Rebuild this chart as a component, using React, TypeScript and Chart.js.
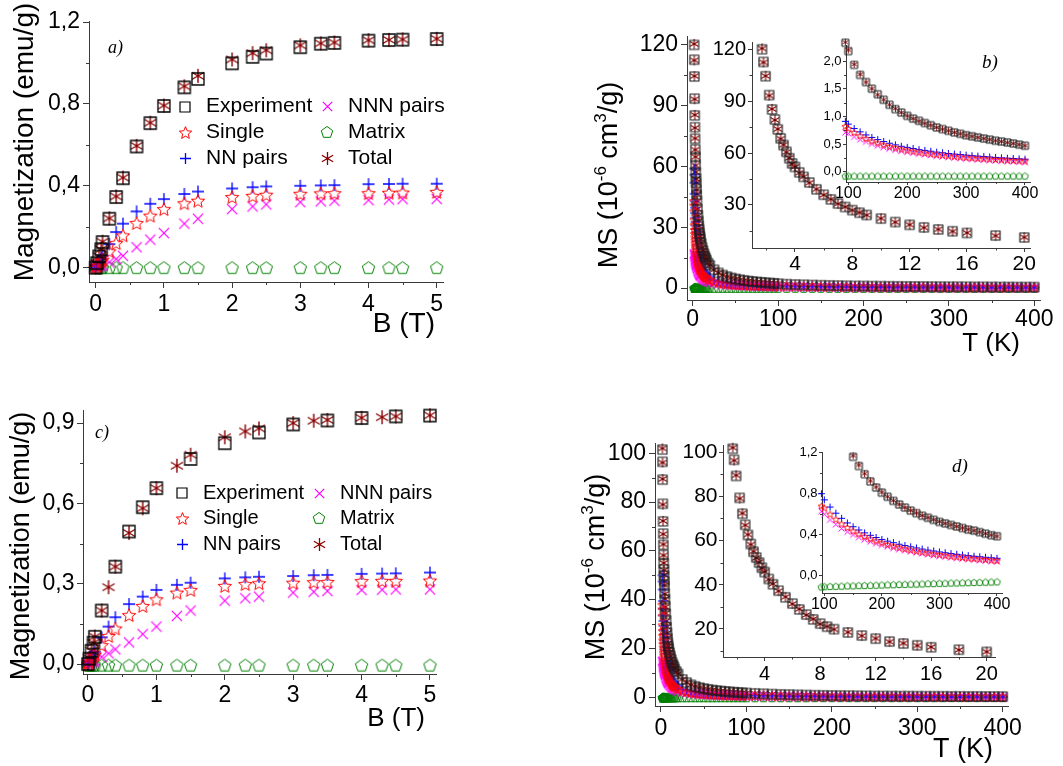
import React, { useEffect, useRef } from "react";
import { Chart, registerables } from "chart.js";

Chart.register(...registerables);

const W = 1063;
const H = 766;
const AXIS = "#3a3a3a";
const SANS = "'Liberation Sans', Arial, sans-serif";
const SERIF = "'Liberation Serif', 'Times New Roman', serif";

// ---------------- data: panels a) and c) (magnetization vs field) ----------------
const B_FIELD = [0, 0.02, 0.05, 0.08, 0.1, 0.2, 0.3, 0.4, 0.6, 0.8, 1.0, 1.3, 1.5, 2.0, 2.3, 2.5, 3.0, 3.3, 3.5, 4.0, 4.3, 4.5, 5.0];

const A_EXPERIMENT = [0, 0.022, 0.055, 0.09, 0.125, 0.239, 0.345, 0.437, 0.592, 0.706, 0.79, 0.881, 0.922, 0.998, 1.03, 1.046, 1.077, 1.094, 1.098, 1.109, 1.112, 1.114, 1.117];
const A_SINGLE = [0, 0.008, 0.02, 0.032, 0.039, 0.08, 0.12, 0.158, 0.218, 0.254, 0.286, 0.315, 0.327, 0.345, 0.351, 0.356, 0.361, 0.363, 0.364, 0.364, 0.366, 0.367, 0.37];
const A_NN = [0, 0.012, 0.03, 0.045, 0.058, 0.115, 0.174, 0.215, 0.275, 0.312, 0.335, 0.36, 0.372, 0.387, 0.393, 0.397, 0.4, 0.402, 0.403, 0.408, 0.409, 0.41, 0.41];
const A_NNN = [0, 0.002, 0.005, 0.008, 0.011, 0.026, 0.042, 0.058, 0.1, 0.137, 0.169, 0.215, 0.239, 0.286, 0.299, 0.309, 0.32, 0.324, 0.327, 0.33, 0.333, 0.335, 0.336];
const A_MATRIX = [0, 0, 0, 0, 0, 0, 0, 0, 0, 0, 0, 0, 0, 0, 0, 0, 0, 0, 0, 0, 0, 0, 0];
const A_TOTAL = [0, 0.022, 0.056, 0.09, 0.127, 0.241, 0.348, 0.44, 0.595, 0.708, 0.792, 0.886, 0.937, 1.017, 1.048, 1.062, 1.086, 1.096, 1.1, 1.111, 1.113, 1.115, 1.118];

const C_EXPERIMENT = [0, 0.02, 0.05, 0.08, 0.102, 0.2, null, 0.364, 0.495, 0.586, 0.657, null, 0.766, 0.825, null, 0.865, 0.895, null, 0.91, 0.919, null, 0.925, 0.928];
const C_SINGLE = [0, 0.007, 0.018, 0.029, 0.036, 0.071, 0.105, 0.133, 0.183, 0.217, 0.242, 0.267, 0.277, 0.292, 0.299, 0.302, 0.304, 0.306, 0.307, 0.31, 0.311, 0.311, 0.312];
const C_NN = [0, 0.01, 0.025, 0.037, 0.046, 0.1, 0.14, 0.175, 0.224, 0.252, 0.277, 0.296, 0.304, 0.32, 0.324, 0.326, 0.329, 0.332, 0.333, 0.337, 0.338, 0.339, 0.342];
const C_NNN = [0, 0.002, 0.005, 0.008, 0.012, 0.027, 0.04, 0.055, 0.081, 0.112, 0.14, 0.18, 0.2, 0.237, 0.246, 0.252, 0.267, 0.27, 0.273, 0.277, 0.278, 0.279, 0.279];
const C_MATRIX = [-0.004, -0.004, -0.004, -0.004, -0.004, -0.004, -0.004, -0.004, -0.004, -0.004, -0.004, -0.004, -0.004, -0.004, -0.004, -0.004, -0.004, -0.004, -0.004, -0.004, -0.004, -0.004, -0.004];
const C_TOTAL = [0, 0.021, 0.05, 0.08, 0.103, 0.2, 0.287, 0.364, 0.49, 0.582, 0.657, 0.741, 0.782, 0.847, 0.869, 0.88, 0.9, 0.909, 0.912, 0.92, 0.922, 0.925, 0.929];

// ---------------- data: panels b) and d) (susceptibility vs temperature) ----------------
const T_LOW = [1.7, 1.8, 1.95, 2.2, 2.4, 2.6, 2.8, 3.0, 3.2, 3.4, 3.6, 3.8, 4.0, 4.3, 4.6, 5.0, 5.5, 6.0, 6.5, 7.0, 7.5, 8.0, 8.5, 9.0, 10, 11, 12, 13, 14, 15, 16, 18, 20];
const T_MID = [25, 30, 35, 40, 45, 50, 55, 60, 65, 70, 75, 80, 85, 90, 95];
const T_HIGH = [100, 110, 120, 130, 140, 150, 160, 170, 180, 190, 200, 210, 220, 230, 240, 250, 260, 270, 280, 290, 300, 310, 320, 330, 340, 350, 360, 370, 380, 390, 400];
const TEMPS = [...T_LOW, ...T_MID, ...T_HIGH];

const B_EXPERIMENT = [
  120, 112.7, 104.4, 93.5, 85.2, 79.4, 73.7, 68.5, 64.6, 60.7, 57.0, 54.0, 52.0, 48.8, 46.2, 43.0, 39.0, 35.9, 33.2, 30.8, 28.8, 27.0, 25.5, 24.2, 22.1, 20.1, 18.5, 17.0, 15.8, 14.8, 13.8, 12.3, 11.2,
  9.0, 7.5, 6.45, 5.65, 5.02, 4.52, 4.1, 3.76, 3.47, 3.22, 3.0, 2.81, 2.64, 2.49, 2.33,
  2.18, 1.93, 1.75, 1.62, 1.5, 1.4, 1.3, 1.21, 1.13, 1.07, 1.01, 0.96, 0.92, 0.88, 0.84, 0.8, 0.77, 0.74, 0.71, 0.685, 0.66, 0.64, 0.62, 0.6, 0.58, 0.56, 0.545, 0.53, 0.51, 0.49, 0.47,
];
const B_SINGLE = [
  43, 40.8, 37.8, 33.7, 31, 28.7, 26.7, 25, 23.5, 22.1, 20.9, 19.9, 18.9, 17.6, 16.5, 15.2, 13.9, 12.7, 11.8, 10.9, 10.2, 9.6, 9.0, 8.5, 7.7, 7.0, 6.4, 5.9, 5.5, 5.1, 4.8, 4.3, 3.85,
  3.1, 2.58, 2.2, 1.93, 1.72, 1.55, 1.41, 1.29, 1.19, 1.1, 1.03, 0.97, 0.91, 0.86, 0.82,
  0.78, 0.71, 0.65, 0.6, 0.555, 0.52, 0.487, 0.458, 0.433, 0.41, 0.39, 0.371, 0.354, 0.339, 0.325, 0.312, 0.3, 0.289, 0.279, 0.269, 0.26, 0.252, 0.244, 0.236, 0.229, 0.223, 0.217, 0.211, 0.205, 0.2, 0.195,
];
const B_NN = [
  59, 56, 52, 46.5, 42.8, 39.7, 37, 34.7, 32.6, 30.8, 29.2, 27.7, 26.4, 24.6, 23.1, 21.3, 19.4, 17.8, 16.5, 15.3, 14.3, 13.4, 12.6, 11.9, 10.7, 9.7, 8.9, 8.2, 7.6, 7.1, 6.6, 5.9, 5.2,
  4.1, 3.35, 2.83, 2.43, 2.13, 1.9, 1.71, 1.55, 1.42, 1.3, 1.2, 1.11, 1.04, 0.97, 0.91,
  0.86, 0.78, 0.72, 0.665, 0.62, 0.58, 0.545, 0.515, 0.485, 0.46, 0.44, 0.42, 0.4, 0.385, 0.37, 0.355, 0.343, 0.33, 0.32, 0.31, 0.3, 0.29, 0.282, 0.274, 0.266, 0.259, 0.252, 0.245, 0.239, 0.233, 0.227,
];
const B_NNN = [
  17, 16.6, 16.1, 15.3, 14.7, 14.1, 13.6, 13.1, 12.6, 12.2, 11.8, 11.4, 11.0, 10.5, 10.0, 9.4, 8.7, 8.1, 7.6, 7.1, 6.7, 6.3, 6.0, 5.7, 5.2, 4.8, 4.4, 4.1, 3.85, 3.6, 3.4, 3.05, 2.8,
  2.3, 1.97, 1.72, 1.53, 1.38, 1.26, 1.16, 1.07, 1.0, 0.93, 0.88, 0.83, 0.78, 0.74, 0.71,
  0.69, 0.63, 0.58, 0.54, 0.5, 0.47, 0.44, 0.416, 0.394, 0.374, 0.356, 0.339, 0.324, 0.31, 0.297, 0.285, 0.274, 0.264, 0.254, 0.245, 0.237, 0.229, 0.222, 0.215, 0.209, 0.203, 0.197, 0.19, 0.184, 0.178, 0.172,
];
const B_MATRIX = [
  -0.08, -0.08, -0.08, -0.08, -0.08, -0.08, -0.08, -0.08, -0.08, -0.08, -0.08, -0.08, -0.08, -0.08, -0.08, -0.08, -0.08, -0.08, -0.08, -0.08, -0.08, -0.08, -0.08, -0.08, -0.08, -0.08, -0.08, -0.08, -0.08, -0.08, -0.08, -0.08, -0.08,
  -0.08, -0.08, -0.08, -0.08, -0.08, -0.08, -0.08, -0.08, -0.08, -0.08, -0.08, -0.08, -0.08, -0.08, -0.08,
  -0.078, -0.078, -0.078, -0.078, -0.078, -0.078, -0.078, -0.078, -0.078, -0.078, -0.078, -0.078, -0.078, -0.078, -0.078, -0.078, -0.078, -0.078, -0.078, -0.078, -0.078, -0.078, -0.078, -0.078, -0.078, -0.078, -0.078, -0.078, -0.078, -0.078, -0.078,
];
const B_TOTAL = [
  120.5, 112.4, 104.6, 93.2, 85.5, 79.1, 73.9, 68.3, 64.8, 60.5, 57.2, 53.8, 52.1, 48.6, 46.3, 42.8, 39.1, 35.8, 33.3, 30.7, 28.9, 26.9, 25.6, 24.1, 22.2, 20.0, 18.6, 16.9, 15.9, 14.7, 13.9, 12.2, 11.3,
  9.05, 7.48, 6.47, 5.63, 5.03, 4.5, 4.11, 3.75, 3.48, 3.21, 3.01, 2.8, 2.65, 2.48, 2.34,
  2.2, 1.94, 1.76, 1.62, 1.5, 1.39, 1.3, 1.21, 1.14, 1.07, 1.01, 0.96, 0.915, 0.875, 0.84, 0.8, 0.77, 0.74, 0.71, 0.685, 0.66, 0.64, 0.62, 0.6, 0.58, 0.56, 0.545, 0.525, 0.51, 0.49, 0.47,
];

const D_EXPERIMENT = [
  101.5, 96.5, 89.2, 79.3, 72.1, 67.1, 62.5, 58.4, 54.9, 52.3, 50.0, 47.7, 45.7, 42.6, 40.2, 37.3, 34.3, 31.5, 28.8, 26.5, 24.3, 22.4, 21.0, 19.9, 18.4, 17.0, 15.6, 14.3, 13.4, 12.6, 11.7, 10.6, 9.6,
  7.4, 6.1, 5.2, 4.55, 4.05, 3.65, 3.32, 3.05, 2.82, 2.62, 2.45, 2.3, 2.16, 2.04, 1.92,
  1.82, 1.65, 1.5, 1.37, 1.26, 1.16, 1.07, 0.99, 0.92, 0.86, 0.81, 0.77, 0.73, 0.695, 0.665, 0.635, 0.61, 0.585, 0.565, 0.545, 0.525, 0.51, 0.495, 0.48, 0.465, 0.45, 0.44, 0.425, 0.41, 0.395, 0.385,
];
const D_SINGLE = [
  38, 36, 33.3, 29.6, 27.2, 25.2, 23.4, 21.9, 20.5, 19.3, 18.3, 17.3, 16.5, 15.3, 14.3, 13.2, 12.0, 11.0, 10.2, 9.5, 8.9, 8.3, 7.8, 7.4, 6.7, 6.1, 5.6, 5.2, 4.8, 4.5, 4.2, 3.75, 3.4,
  2.7, 2.25, 1.93, 1.69, 1.5, 1.35, 1.22, 1.11, 1.02, 0.94, 0.87, 0.81, 0.76, 0.71, 0.68,
  0.66, 0.6, 0.55, 0.505, 0.47, 0.437, 0.408, 0.383, 0.36, 0.34, 0.322, 0.305, 0.29, 0.277, 0.264, 0.253, 0.242, 0.232, 0.223, 0.214, 0.206, 0.199, 0.192, 0.185, 0.179, 0.173, 0.168, 0.163, 0.158, 0.153, 0.148,
];
const D_NN = [
  50, 47.5, 44.2, 39.5, 36.3, 33.6, 31.3, 29.3, 27.5, 26, 24.6, 23.3, 22.2, 20.7, 19.4, 17.9, 16.3, 15.0, 13.9, 12.9, 12.1, 11.4, 10.7, 10.1, 9.1, 8.3, 7.6, 7.0, 6.5, 6.1, 5.7, 5.1, 4.6,
  3.6, 2.95, 2.5, 2.16, 1.9, 1.69, 1.52, 1.38, 1.26, 1.16, 1.07, 0.99, 0.92, 0.86, 0.8,
  0.74, 0.67, 0.61, 0.56, 0.515, 0.478, 0.446, 0.418, 0.394, 0.373, 0.354, 0.337, 0.322, 0.307, 0.294, 0.282, 0.271, 0.26, 0.25, 0.241, 0.232, 0.224, 0.216, 0.209, 0.202, 0.196, 0.19, 0.185, 0.18, 0.175, 0.17,
];
const D_NNN = [
  15, 14.7, 14.3, 13.6, 13.1, 12.6, 12.2, 11.8, 11.4, 11.0, 10.7, 10.3, 10.0, 9.6, 9.2, 8.7, 8.1, 7.6, 7.1, 6.7, 6.3, 6.0, 5.7, 5.4, 4.9, 4.5, 4.15, 3.85, 3.6, 3.35, 3.15, 2.8, 2.55,
  2.1, 1.8, 1.57, 1.4, 1.26, 1.15, 1.05, 0.97, 0.9, 0.84, 0.79, 0.74, 0.7, 0.66, 0.63,
  0.6, 0.545, 0.5, 0.46, 0.428, 0.399, 0.374, 0.352, 0.332, 0.314, 0.298, 0.283, 0.27, 0.257, 0.246, 0.235, 0.225, 0.216, 0.207, 0.199, 0.192, 0.185, 0.178, 0.172, 0.166, 0.161, 0.156, 0.151, 0.146, 0.142, 0.138,
];
const D_MATRIX = [
  -0.11, -0.11, -0.11, -0.11, -0.11, -0.11, -0.11, -0.11, -0.11, -0.11, -0.11, -0.11, -0.11, -0.11, -0.11, -0.11, -0.11, -0.11, -0.11, -0.11, -0.11, -0.11, -0.11, -0.11, -0.11, -0.11, -0.11, -0.11, -0.11, -0.11, -0.11, -0.11, -0.11,
  -0.11, -0.11, -0.11, -0.11, -0.11, -0.11, -0.11, -0.11, -0.11, -0.11, -0.11, -0.11, -0.11, -0.11, -0.11,
  -0.107, -0.105, -0.104, -0.102, -0.1, -0.099, -0.097, -0.096, -0.094, -0.093, -0.091, -0.089, -0.088, -0.086, -0.085, -0.083, -0.082, -0.08, -0.078, -0.077, -0.075, -0.074, -0.072, -0.071, -0.069, -0.068, -0.066, -0.065, -0.063, -0.062, -0.06,
];
const D_TOTAL = [
  102, 96.2, 89.5, 79.0, 72.3, 66.9, 62.7, 58.2, 55.1, 52.1, 50.2, 47.5, 45.9, 42.4, 40.4, 37.1, 34.5, 31.3, 29.0, 26.3, 24.5, 22.2, 21.1, 19.8, 18.5, 16.9, 15.7, 14.2, 13.5, 12.5, 11.8, 10.5, 9.7,
  7.42, 6.08, 5.22, 4.53, 4.06, 3.64, 3.33, 3.04, 2.83, 2.61, 2.46, 2.29, 2.17, 2.03, 1.93,
  1.83, 1.65, 1.5, 1.37, 1.26, 1.17, 1.08, 0.995, 0.925, 0.865, 0.815, 0.77, 0.732, 0.697, 0.665, 0.637, 0.612, 0.587, 0.566, 0.546, 0.527, 0.511, 0.496, 0.481, 0.466, 0.452, 0.44, 0.426, 0.411, 0.397, 0.386,
];

// ---------------- tick values ----------------
const TICKS_B_MAJOR = [0, 1, 2, 3, 4, 5];
const TICKS_B_MINOR = [0.5, 1.5, 2.5, 3.5, 4.5];
const TICKS_A_Y = [0, 0.4, 0.8, 1.2];
const TICKS_A_Y_MINOR = [0.2, 0.6, 1.0];
const TICKS_C_Y = [0, 0.3, 0.6, 0.9];
const TICKS_C_Y_MINOR = [0.15, 0.45, 0.75];
const TICKS_T_MAJOR = [0, 100, 200, 300, 400];
const TICKS_T_MINOR = [50, 150, 250, 350];
const TICKS_TIN_MAJOR = [4, 8, 12, 16, 20];
const TICKS_TIN_MINOR = [2, 6, 10, 14, 18];
const TICKS_THI_MAJOR = [100, 200, 300, 400];
const TICKS_THI_MINOR = [150, 250, 350];
const TICKS_B_MAIN_Y = [0, 30, 60, 90, 120];
const TICKS_B_MAIN_Y_MINOR = [15, 45, 75, 105];
const TICKS_B1_Y = [30, 60, 90, 120];
const TICKS_B1_Y_MINOR = [15, 45, 75, 105];
const TICKS_B2_Y = [0, 0.5, 1.0, 1.5, 2.0];
const TICKS_B2_Y_MINOR = [0.25, 0.75, 1.25, 1.75];
const TICKS_D_MAIN_Y = [0, 20, 40, 60, 80, 100];
const TICKS_D_MAIN_Y_MINOR = [10, 30, 50, 70, 90];
const TICKS_D1_Y = [20, 40, 60, 80, 100];
const TICKS_D1_Y_MINOR = [10, 30, 50, 70, 90];
const TICKS_D2_Y = [0, 0.4, 0.8, 1.2];
const TICKS_D2_Y_MINOR = [0.2, 0.6, 1.0];

const LABELS = ["Experiment", "Single", "NN pairs", "NNN pairs", "Matrix", "Total"];

// ---------------- helpers ----------------
type Mk = HTMLCanvasElement;
type DS = { label: string; xs: number[]; ys: (number | null)[]; marker: Mk; r: number };
type AxisSpec = { min: number; max: number; major: number[]; minor: number[]; font: number; pad: number; fmt: (v: number) => string };
type Seg = { t: string; sup?: boolean };
type TextItem = { segs: Seg[]; x: number; y: number; size: number; align?: "left" | "center" | "right"; rot?: boolean; italicSerif?: boolean };
type LegendItem = { label: string; marker: Mk; mx: number; tx: number; y: number };
type Panel = {
  plot: { l: number; t: number; r: number; b: number };
  x: AxisSpec;
  y: AxisSpec;
  tickMajor: number;
  tickMinor: number;
  datasets: DS[];
  texts?: TextItem[];
  legend?: { items: LegendItem[]; size: number };
};

const fmtInt = (v: number) => String(Math.round(v));
const fmtDec = (v: number) => v.toFixed(1).replace(".", ",");

function marker(kind: string, size: number, color: string, lw: number, dot?: string): Mk {
  const pad = Math.ceil(lw) + 1;
  const dim = Math.ceil(size) + pad * 2;
  const c = document.createElement("canvas");
  c.width = dim;
  c.height = dim;
  const g = c.getContext("2d")!;
  const m = dim / 2;
  const h = size / 2;
  g.strokeStyle = color;
  g.fillStyle = color;
  g.lineWidth = lw;
  g.beginPath();
  if (kind === "square") {
    g.rect(m - h, m - h, size, size);
  } else if (kind === "plus") {
    g.moveTo(m - h, m);
    g.lineTo(m + h, m);
    g.moveTo(m, m - h);
    g.lineTo(m, m + h);
  } else if (kind === "cross") {
    const k = h * 0.85;
    g.moveTo(m - k, m - k);
    g.lineTo(m + k, m + k);
    g.moveTo(m + k, m - k);
    g.lineTo(m - k, m + k);
  } else if (kind === "star" || kind === "pentagon") {
    const n = kind === "star" ? 10 : 5;
    const dy = kind === "star" ? h * 0.1 : h * 0.08;
    for (let i = 0; i < n; i++) {
      const ang = -Math.PI / 2 + (i * 2 * Math.PI) / n;
      const rr = kind === "star" && i % 2 === 1 ? h * 0.45 : h;
      const px = m + rr * Math.cos(ang);
      const py = m + dy + rr * Math.sin(ang);
      if (i === 0) g.moveTo(px, py);
      else g.lineTo(px, py);
    }
    g.closePath();
  } else if (kind === "asterisk") {
    for (const deg of [90, 30, 150]) {
      const a = (deg * Math.PI) / 180;
      g.moveTo(m - h * Math.cos(a), m - h * Math.sin(a));
      g.lineTo(m + h * Math.cos(a), m + h * Math.sin(a));
    }
  }
  g.stroke();
  if (kind === "asterisk") {
    g.beginPath();
    g.fillStyle = dot || color;
    g.arc(m, m, Math.max(1, lw * 0.9), 0, Math.PI * 2);
    g.fill();
  }
  return c;
}

function drawText(ctx: CanvasRenderingContext2D, t: TextItem) {
  ctx.save();
  ctx.fillStyle = "#000";
  ctx.translate(t.x, t.y);
  if (t.rot) ctx.rotate(-Math.PI / 2);
  const fam = t.italicSerif ? SERIF : SANS;
  const style = t.italicSerif ? "italic " : "";
  const mainFont = `${style}${t.size}px ${fam}`;
  const supFont = `${style}${Math.round(t.size * 0.62)}px ${fam}`;
  const widths: number[] = [];
  let total = 0;
  for (const s of t.segs) {
    ctx.font = s.sup ? supFont : mainFont;
    const w = ctx.measureText(s.t).width;
    widths.push(w);
    total += w;
  }
  let x0 = t.align === "center" ? -total / 2 : t.align === "right" ? -total : 0;
  ctx.textAlign = "left";
  ctx.textBaseline = "alphabetic";
  t.segs.forEach((s, i) => {
    ctx.font = s.sup ? supFont : mainFont;
    ctx.fillText(s.t, x0, s.sup ? -t.size * 0.4 : 0);
    x0 += widths[i];
  });
  ctx.restore();
}

function decoPlugin(p: Panel) {
  return {
    id: "deco",
    afterDraw(chart: any) {
      const ctx: CanvasRenderingContext2D = chart.ctx;
      const area = chart.chartArea;
      const xs = chart.scales.x;
      const ys = chart.scales.y;
      ctx.save();
      ctx.strokeStyle = AXIS;
      ctx.lineWidth = 1;
      ctx.beginPath();
      for (const v of p.x.minor) {
        const px = Math.round(xs.getPixelForValue(v)) + 0.5;
        ctx.moveTo(px, area.bottom);
        ctx.lineTo(px, area.bottom + p.tickMinor);
      }
      for (const v of p.y.minor) {
        const py = Math.round(ys.getPixelForValue(v)) + 0.5;
        ctx.moveTo(area.left - p.tickMinor, py);
        ctx.lineTo(area.left, py);
      }
      ctx.stroke();
      ctx.restore();
      if (p.legend) {
        ctx.save();
        ctx.fillStyle = "#000";
        ctx.font = `${p.legend.size}px ${SANS}`;
        ctx.textAlign = "left";
        ctx.textBaseline = "middle";
        for (const it of p.legend.items) {
          ctx.drawImage(it.marker, Math.round(it.mx - it.marker.width / 2), Math.round(it.y - it.marker.height / 2));
          ctx.fillText(it.label, it.tx, it.y);
        }
        ctx.restore();
      }
      for (const t of p.texts || []) drawText(ctx, t);
    },
  };
}

function axisOpts(a: AxisSpec, which: "x" | "y", size: number, tickLen: number) {
  return {
    type: "linear",
    bounds: "data",
    min: a.min,
    max: a.max,
    afterBuildTicks: (sc: any) => {
      sc.ticks = a.major.map((v) => ({ value: v }));
    },
    afterFit: (sc: any) => {
      if (which === "x") sc.height = size;
      else sc.width = size;
    },
    grid: { display: true, drawOnChartArea: false, drawTicks: true, tickLength: tickLen, tickColor: AXIS, tickWidth: 1, color: AXIS, lineWidth: 1 },
    border: { display: true, color: AXIS, width: 1 },
    ticks: {
      autoSkip: false,
      maxRotation: 0,
      minRotation: 0,
      padding: a.pad,
      color: "#000",
      font: { family: SANS, size: a.font, lineHeight: 1.2 },
      callback: (v: any) => a.fmt(Number(v)),
    },
  };
}

function makeConfig(p: Panel): any {
  const YW = 70;
  const XH = 40;
  return {
    type: "scatter",
    data: {
      datasets: p.datasets.map((d) => ({
        label: d.label,
        data: d.xs
          .map((x, i) => ({ x, y: d.ys[i] }))
          .filter((pt) => pt.y !== null && pt.y !== undefined),
        pointStyle: d.marker,
        pointRadius: d.r,
        pointHoverRadius: d.r,
        pointBorderWidth: 0,
        showLine: false,
        clip: false,
      })),
    },
    options: {
      responsive: false,
      animation: false,
      devicePixelRatio: 1,
      events: [],
      layout: { padding: { left: p.plot.l - YW, top: p.plot.t, right: W - p.plot.r, bottom: H - p.plot.b - XH } },
      plugins: { legend: { display: false }, tooltip: { enabled: false }, title: { display: false } },
      scales: {
        x: axisOpts(p.x, "x", XH, p.tickMajor),
        y: axisOpts(p.y, "y", YW, p.tickMajor),
      },
    },
    plugins: [decoPlugin(p)],
  };
}

function series(xs: number[], ys: (number | null)[][], mk: Mk[], r: number, pick?: number[]): DS[] {
  const idx = pick || [0, 1, 2, 3, 4, 5];
  return idx.map((k, j) => ({ label: LABELS[k], xs, ys: ys[j], marker: mk[k], r }));
}

function buildPanels(): Panel[] {
  // markers: Experiment, Single, NN, NNN, Matrix, Total
  const big = [
    marker("square", 12, "#000", 1.3),
    marker("star", 14, "#ff0000", 1),
    marker("plus", 12, "#0000ff", 1.3),
    marker("cross", 12, "#ff00ff", 1.2),
    marker("pentagon", 13, "#008000", 1),
    marker("asterisk", 14, "#8b0000", 1.4),
  ];
  const leg = [
    marker("square", 10, "#000", 1.2),
    marker("star", 13, "#ff0000", 1),
    marker("plus", 11, "#0000ff", 1.3),
    marker("cross", 11, "#ff00ff", 1.2),
    marker("pentagon", 12, "#008000", 1),
    marker("asterisk", 13, "#8b0000", 1.3),
  ];
  const mid = [
    marker("square", 9, "#1a1a1a", 1.1),
    marker("star", 10, "#ff0000", 0.9),
    marker("plus", 10, "#0000ff", 1.1),
    marker("cross", 10, "#ff00ff", 1.1),
    marker("pentagon", 9, "#008000", 1),
    marker("asterisk", 10, "#8b0000", 1.1, "#600000"),
  ];
  const small = [
    marker("square", 7, "#1a1a1a", 1),
    marker("star", 7, "#ff0000", 0.9),
    marker("plus", 7, "#0000ff", 1),
    marker("cross", 7, "#ff00ff", 1),
    marker("pentagon", 7, "#008000", 0.9),
    marker("asterisk", 7, "#8b0000", 0.9, "#600000"),
  ];

  const legendItems = (xs: [number, number, number, number], ys: number[]): LegendItem[] =>
    LABELS.map((label, i) => ({
      label,
      marker: leg[i],
      mx: i < 3 ? xs[0] : xs[2],
      tx: i < 3 ? xs[1] : xs[3],
      y: ys[i % 3],
    }));

  const panelA: Panel = {
    plot: { l: 89, t: 21, r: 443, b: 282 },
    x: { min: -0.098, max: 5.092, major: TICKS_B_MAJOR, minor: TICKS_B_MINOR, font: 23, pad: 3, fmt: fmtInt },
    y: { min: -0.07, max: 1.205, major: TICKS_A_Y, minor: TICKS_A_Y_MINOR, font: 23, pad: 3, fmt: fmtDec },
    tickMajor: 6,
    tickMinor: 3,
    datasets: series(B_FIELD, [A_EXPERIMENT, A_SINGLE, A_NN, A_NNN, A_MATRIX, A_TOTAL], big, 6),
    texts: [
      { segs: [{ t: "Magnetization (emu/g)" }], x: 33, y: 142, size: 28, align: "center", rot: true },
      { segs: [{ t: "B (T)" }], x: 435, y: 332, size: 28, align: "right" },
      { segs: [{ t: "a)" }], x: 108, y: 53, size: 18, italicSerif: true },
    ],
    legend: { items: legendItems([185, 206, 327, 348], [106.5, 132.3, 158.3]), size: 21 },
  };

  const panelC: Panel = {
    plot: { l: 83, t: 410, r: 436, b: 674 },
    x: { min: -0.073, max: 5.088, major: TICKS_B_MAJOR, minor: TICKS_B_MINOR, font: 23, pad: 2, fmt: fmtInt },
    y: { min: -0.037, max: 0.949, major: TICKS_C_Y, minor: TICKS_C_Y_MINOR, font: 23, pad: 2.5, fmt: fmtDec },
    tickMajor: 6,
    tickMinor: 3,
    datasets: series(B_FIELD, [C_EXPERIMENT, C_SINGLE, C_NN, C_NNN, C_MATRIX, C_TOTAL], big, 6),
    texts: [
      { segs: [{ t: "Magnetization (emu/g)" }], x: 28.5, y: 546, size: 27, align: "center", rot: true },
      { segs: [{ t: "B (T)" }], x: 425, y: 726, size: 26, align: "right" },
      { segs: [{ t: "c)" }], x: 95, y: 438, size: 18, italicSerif: true },
    ],
    legend: { items: legendItems([182, 203, 319, 340], [493, 518, 544]), size: 20 },
  };

  const msTitle: Seg[] = [{ t: "MS (10" }, { t: "-6", sup: true }, { t: " cm" }, { t: "3", sup: true }, { t: "/g)" }];

  const panelB: Panel = {
    plot: { l: 687, t: 36, r: 1040, b: 300 },
    x: { min: -6.7, max: 406.7, major: TICKS_T_MAJOR, minor: TICKS_T_MINOR, font: 23, pad: 0, fmt: fmtInt },
    y: { min: -5.9, max: 124.4, major: TICKS_B_MAIN_Y, minor: TICKS_B_MAIN_Y_MINOR, font: 23, pad: 3, fmt: fmtInt },
    tickMajor: 6,
    tickMinor: 3,
    datasets: series(TEMPS, [B_EXPERIMENT, B_SINGLE, B_NN, B_NNN, B_MATRIX, B_TOTAL], mid, 5),
    texts: [
      { segs: msTitle, x: 617, y: 175, size: 27, align: "center", rot: true },
      { segs: [{ t: "T (K)" }], x: 1020, y: 351, size: 26, align: "right" },
      { segs: [{ t: "b)" }], x: 982, y: 68, size: 19, italicSerif: true },
    ],
  };

  const panelB1: Panel = {
    plot: { l: 752, t: 42, r: 1030, b: 248 },
    x: { min: 1.0, max: 20.4, major: TICKS_TIN_MAJOR, minor: TICKS_TIN_MINOR, font: 21, pad: 0, fmt: fmtInt },
    y: { min: 5.1, max: 124.2, major: TICKS_B1_Y, minor: TICKS_B1_Y_MINOR, font: 20, pad: 2, fmt: fmtInt },
    tickMajor: 4,
    tickMinor: 2.5,
    datasets: series(TEMPS, [B_EXPERIMENT, B_TOTAL], mid, 5, [0, 5]),
  };

  const panelB2: Panel = {
    plot: { l: 846, t: 45, r: 1030, b: 182 },
    x: { min: 96.1, max: 408.5, major: TICKS_THI_MAJOR, minor: TICKS_THI_MINOR, font: 16, pad: -1, fmt: fmtInt },
    y: { min: -0.186, max: 2.29, major: TICKS_B2_Y, minor: TICKS_B2_Y_MINOR, font: 13, pad: 1.5, fmt: fmtDec },
    tickMajor: 3,
    tickMinor: 2,
    datasets: series(TEMPS, [B_EXPERIMENT, B_SINGLE, B_NN, B_NNN, B_MATRIX, B_TOTAL], small, 3.5),
  };

  const panelD: Panel = {
    plot: { l: 655, t: 443, r: 1008, b: 706 },
    x: { min: -7, max: 406.2, major: TICKS_T_MAJOR, minor: TICKS_T_MINOR, font: 23, pad: 2.5, fmt: fmtInt },
    y: { min: -3.5, max: 104.2, major: TICKS_D_MAIN_Y, minor: TICKS_D_MAIN_Y_MINOR, font: 23, pad: 3, fmt: fmtInt },
    tickMajor: 6,
    tickMinor: 3,
    datasets: series(TEMPS, [D_EXPERIMENT, D_SINGLE, D_NN, D_NNN, D_MATRIX, D_TOTAL], mid, 5),
    texts: [
      { segs: msTitle, x: 604, y: 567, size: 27, align: "center", rot: true },
      { segs: [{ t: "T (K)" }], x: 993, y: 757, size: 27, align: "right" },
      { segs: [{ t: "d)" }], x: 952, y: 472, size: 19, italicSerif: true },
    ],
  };

  const panelD1: Panel = {
    plot: { l: 723, t: 445, r: 995, b: 657 },
    x: { min: 1.0, max: 20.6, major: TICKS_TIN_MAJOR, minor: TICKS_TIN_MINOR, font: 20, pad: 1, fmt: fmtInt },
    y: { min: 7.3, max: 103.2, major: TICKS_D1_Y, minor: TICKS_D1_Y_MINOR, font: 21, pad: 1.5, fmt: fmtInt },
    tickMajor: 4,
    tickMinor: 2.5,
    datasets: series(TEMPS, [D_EXPERIMENT, D_TOTAL], mid, 5, [0, 5]),
  };

  const panelD2: Panel = {
    plot: { l: 822, t: 452, r: 1002, b: 593 },
    x: { min: 96, max: 408.7, major: TICKS_THI_MAJOR, minor: TICKS_THI_MINOR, font: 16, pad: -1.4, fmt: fmtInt },
    y: { min: -0.169, max: 1.207, major: TICKS_D2_Y, minor: TICKS_D2_Y_MINOR, font: 13, pad: 1.5, fmt: fmtDec },
    tickMajor: 3,
    tickMinor: 2,
    datasets: series(TEMPS, [D_EXPERIMENT, D_SINGLE, D_NN, D_NNN, D_MATRIX, D_TOTAL], small, 3.5),
  };

  return [panelA, panelC, panelB, panelB1, panelB2, panelD, panelD1, panelD2];
}

export default function App() {
  const refs = useRef<(HTMLCanvasElement | null)[]>([]);
  useEffect(() => {
    const panels = buildPanels();
    const charts = panels.map((p, i) => new Chart(refs.current[i] as HTMLCanvasElement, makeConfig(p)));
    return () => charts.forEach((c) => c.destroy());
  }, []);
  return (
    <div style={{ position: "absolute", left: 0, top: 0, width: W, height: H, background: "#fff", overflow: "hidden" }}>
      {Array.from({ length: 8 }).map((_, i) => (
        <canvas
          key={i}
          ref={(el) => {
            refs.current[i] = el;
          }}
          width={W}
          height={H}
          style={{ position: "absolute", left: 0, top: 0, width: W, height: H }}
        />
      ))}
    </div>
  );
}
